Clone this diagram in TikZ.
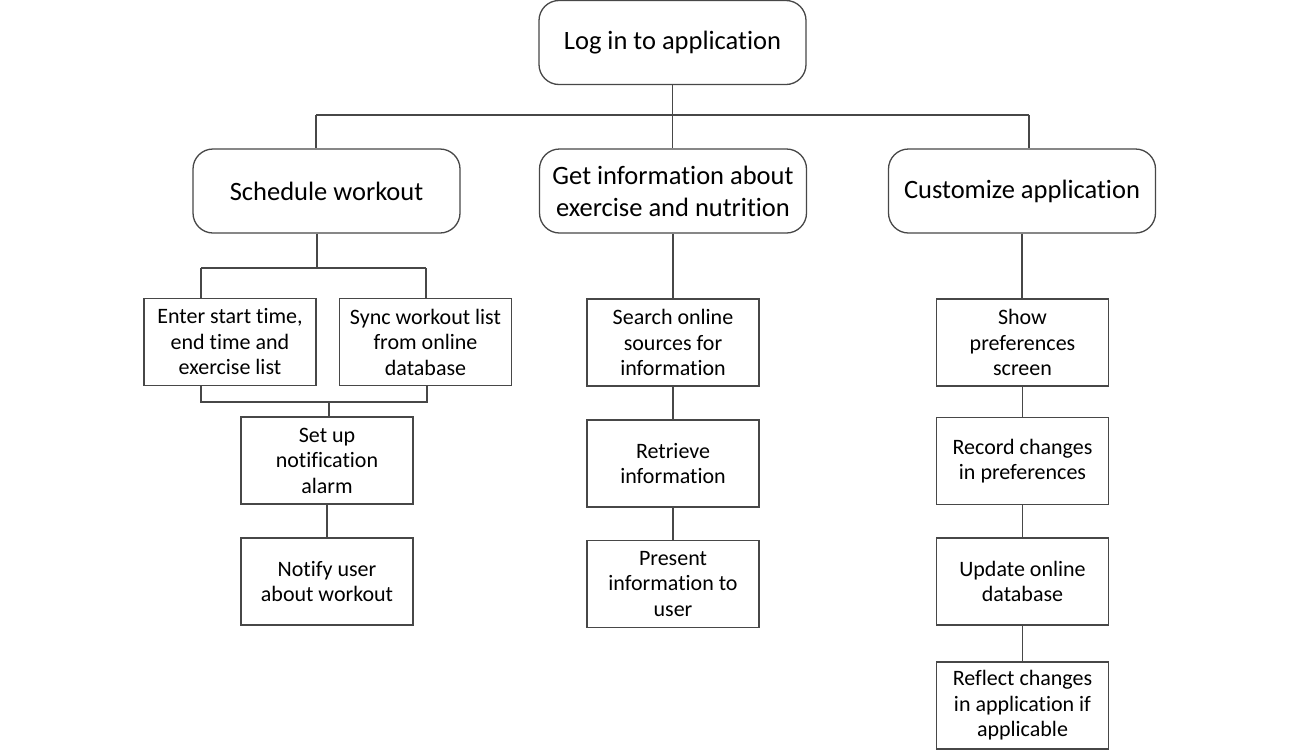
\documentclass[tikz,border=0pt]{standalone}
\usepackage{fontspec}
\setmainfont{Carlito}[Ligatures={NoCommon}]
\begin{document}
\begin{tikzpicture}[x=1pt,y=-1pt,
  line/.style={draw=black!72, line width=1.3pt},
  bigbox/.style={line, rounded corners=20pt, minimum width=267pt, minimum height=84pt,
    align=center, inner sep=0pt, font=\fontsize{26.5}{32}\selectfont, fill=white},
  smallbox/.style={line, minimum width=172pt, minimum height=87pt,
    align=center, inner sep=0pt, font=\fontsize{22}{25.5}\selectfont, fill=white}]
\useasboundingbox (0,0) rectangle (1300,750);
\node[bigbox] (login) at (672.5,42.5) {Log in to application};
\node[bigbox] (sched) at (326.5,191) {Schedule workout};
\node[bigbox] (info) at (673,191) {Get information about\\exercise and nutrition};
\node[bigbox] (cust) at (1022,191) {Customize application};

\node[smallbox] (enter) at (230,342) {Enter start time,\\end time and\\exercise list};
\node[smallbox] (sync) at (425.5,342) {Sync workout list\\from online\\database};
\node[smallbox] (setup) at (327,460.5) {Set up\\notification\\alarm};
\node[smallbox] (notify) at (327,581.5) {Notify user\\about workout};

\node[smallbox] (search) at (673,342.5) {Search online\\sources for\\information};
\node[smallbox] (retrieve) at (673,463.5) {Retrieve\\information};
\node[smallbox] (present) at (673,584) {Present\\information to\\user};

\node[smallbox] (show) at (1022.5,342.5) {Show\\preferences\\screen};
\node[smallbox] (record) at (1022.5,461) {Record changes\\in preferences};
\node[smallbox] (update) at (1022.5,581.5) {Update online\\database};
\node[smallbox] (reflect) at (1022.5,705.5) {Reflect changes\\in application if\\applicable};

\coordinate (busL) at (316,115);
\coordinate (busR) at (1029,115);
\coordinate (sL) at (201,268);
\coordinate (sM) at (317,268);
\coordinate (sR) at (426,268);
\coordinate (jL) at (201,402);
\coordinate (jM) at (329,402);
\coordinate (jR) at (427,402);

\draw[line] (login.south) -- (login.south |- info.north);
\draw[line] (busL) -- (busR);
\draw[line] (busL) -- (busL |- sched.north);
\draw[line] (busR) -- (busR |- cust.north);

\draw[line] (sM |- sched.south) -- (sM);
\draw[line] (sL) -- (sR);
\draw[line] (sL) -- (sL |- enter.north);
\draw[line] (sR) -- (sR |- sync.north);

\draw[line] (jL |- enter.south) -- (jL) -- (jR) -- (jR |- sync.south);
\draw[line] (jM) -- (jM |- setup.north);
\draw[line] (setup.south) -- (notify.north);

\draw[line] (info.south) -- (search.north);
\draw[line] (search.south) -- (retrieve.north);
\draw[line] (retrieve.south) -- (present.north);

\draw[line] (cust.south) -- (cust.south |- show.north);
\draw[line] (show.south) -- (record.north);
\draw[line] (record.south) -- (update.north);
\draw[line] (update.south) -- (reflect.north);
\end{tikzpicture}
\end{document}
